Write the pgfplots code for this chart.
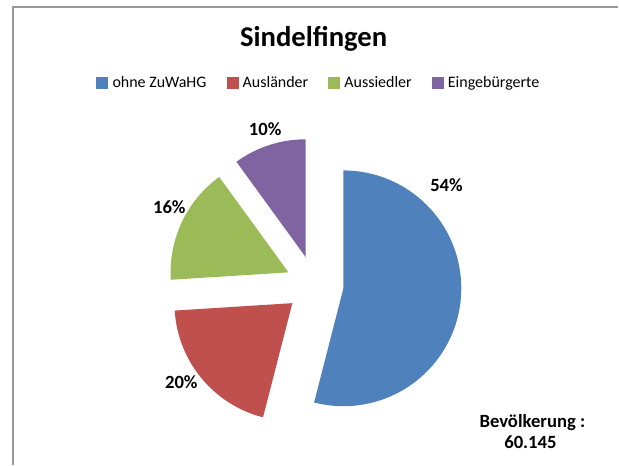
\documentclass[border=0pt]{standalone}
\usepackage{fontspec}
\setmainfont{Carlito}
\usepackage{pgfplots}
\usepackage{pgfplotstable}
\pgfplotsset{compat=1.18}

\definecolor{c0}{HTML}{4F81BD}
\definecolor{c1}{HTML}{C0504D}
\definecolor{c2}{HTML}{9BBB59}
\definecolor{c3}{HTML}{8064A2}

% shares in percent, start = cumulative share before the slice,
% lx/ly = label position (picture pixels, y upwards)
\pgfplotstableread{
share start lx    ly
54    0     447   279.5
20    54    181.5 82.5
16    74    169.5 257.5
10    90    265.5 336
}\shares

\begin{document}
\begin{tikzpicture}
\begin{axis}[
    hide axis,
    scale only axis,
    x=0.75pt, y=0.75pt,
    xmin=0, xmax=619, ymin=0, ymax=465,
    clip=false,
    legend columns=4,
    legend style={
        at={(axis cs:319.5,382)}, anchor=center,
        draw=none, fill=none,
        font=\fontsize{12}{14}\selectfont,
        /tikz/every odd column/.append style={column sep=1.5pt},
        /tikz/every even column/.append style={column sep=13pt},
    },
    legend cell align=left,
]
\path (axis cs:0,0) rectangle (axis cs:619,465);
\draw[black!40, line width=1pt] (axis cs:13,0) |- (axis cs:619,458);

\node[anchor=base, font=\fontsize{21.5}{24}\selectfont\bfseries]
    at (axis cs:314,418) {Sindelfingen};

\pgfplotsinvokeforeach{0,...,3}{
    \pgfplotstablegetelem{#1}{start}\of\shares \let\st\pgfplotsretval
    \pgfplotstablegetelem{#1}{share}\of\shares \let\sh\pgfplotsretval
    \pgfplotstablegetelem{#1}{lx}\of\shares \let\lx\pgfplotsretval
    \pgfplotstablegetelem{#1}{ly}\of\shares \let\ly\pgfplotsretval
    \pgfmathsetmacro\ta{90-3.6*\st}
    \pgfmathsetmacro\tb{90-3.6*(\st+\sh)}
    \pgfmathsetmacro\cx{315+29*cos((\ta+\tb)/2)}
    \pgfmathsetmacro\cy{180+29*sin((\ta+\tb)/2)}
    \edef\slice{%
        \noexpand\fill[c#1] (axis cs:\cx,\cy) -- ++(\ta:88.5pt)
            arc[start angle=\ta, end angle=\tb, radius=88.5pt] -- cycle;
        \noexpand\node[font=\noexpand\fontsize{14}{16}\noexpand\selectfont\noexpand\bfseries]
            at (axis cs:\lx,\ly) {\sh\noexpand\%};}
    \slice
}

\addlegendimage{legend image code/.code={\fill[c0] (0pt,-4pt) rectangle (8.25pt,4.25pt);}}
\addlegendentry{ohne ZuWaHG}
\addlegendimage{legend image code/.code={\fill[c1] (0pt,-4pt) rectangle (8.25pt,4.25pt);}}
\addlegendentry{Ausländer}
\addlegendimage{legend image code/.code={\fill[c2] (0pt,-4pt) rectangle (8.25pt,4.25pt);}}
\addlegendentry{Aussiedler}
\addlegendimage{legend image code/.code={\fill[c3] (0pt,-4pt) rectangle (8.25pt,4.25pt);}}
\addlegendentry{Eingebürgerte}

\node[font=\fontsize{14}{16}\selectfont\bfseries, align=center]
    at (axis cs:533,42) {Bevölkerung :};
\node[font=\fontsize{14}{16}\selectfont\bfseries]
    at (axis cs:531,22) {60.145};
\end{axis}
\end{tikzpicture}
\end{document}
